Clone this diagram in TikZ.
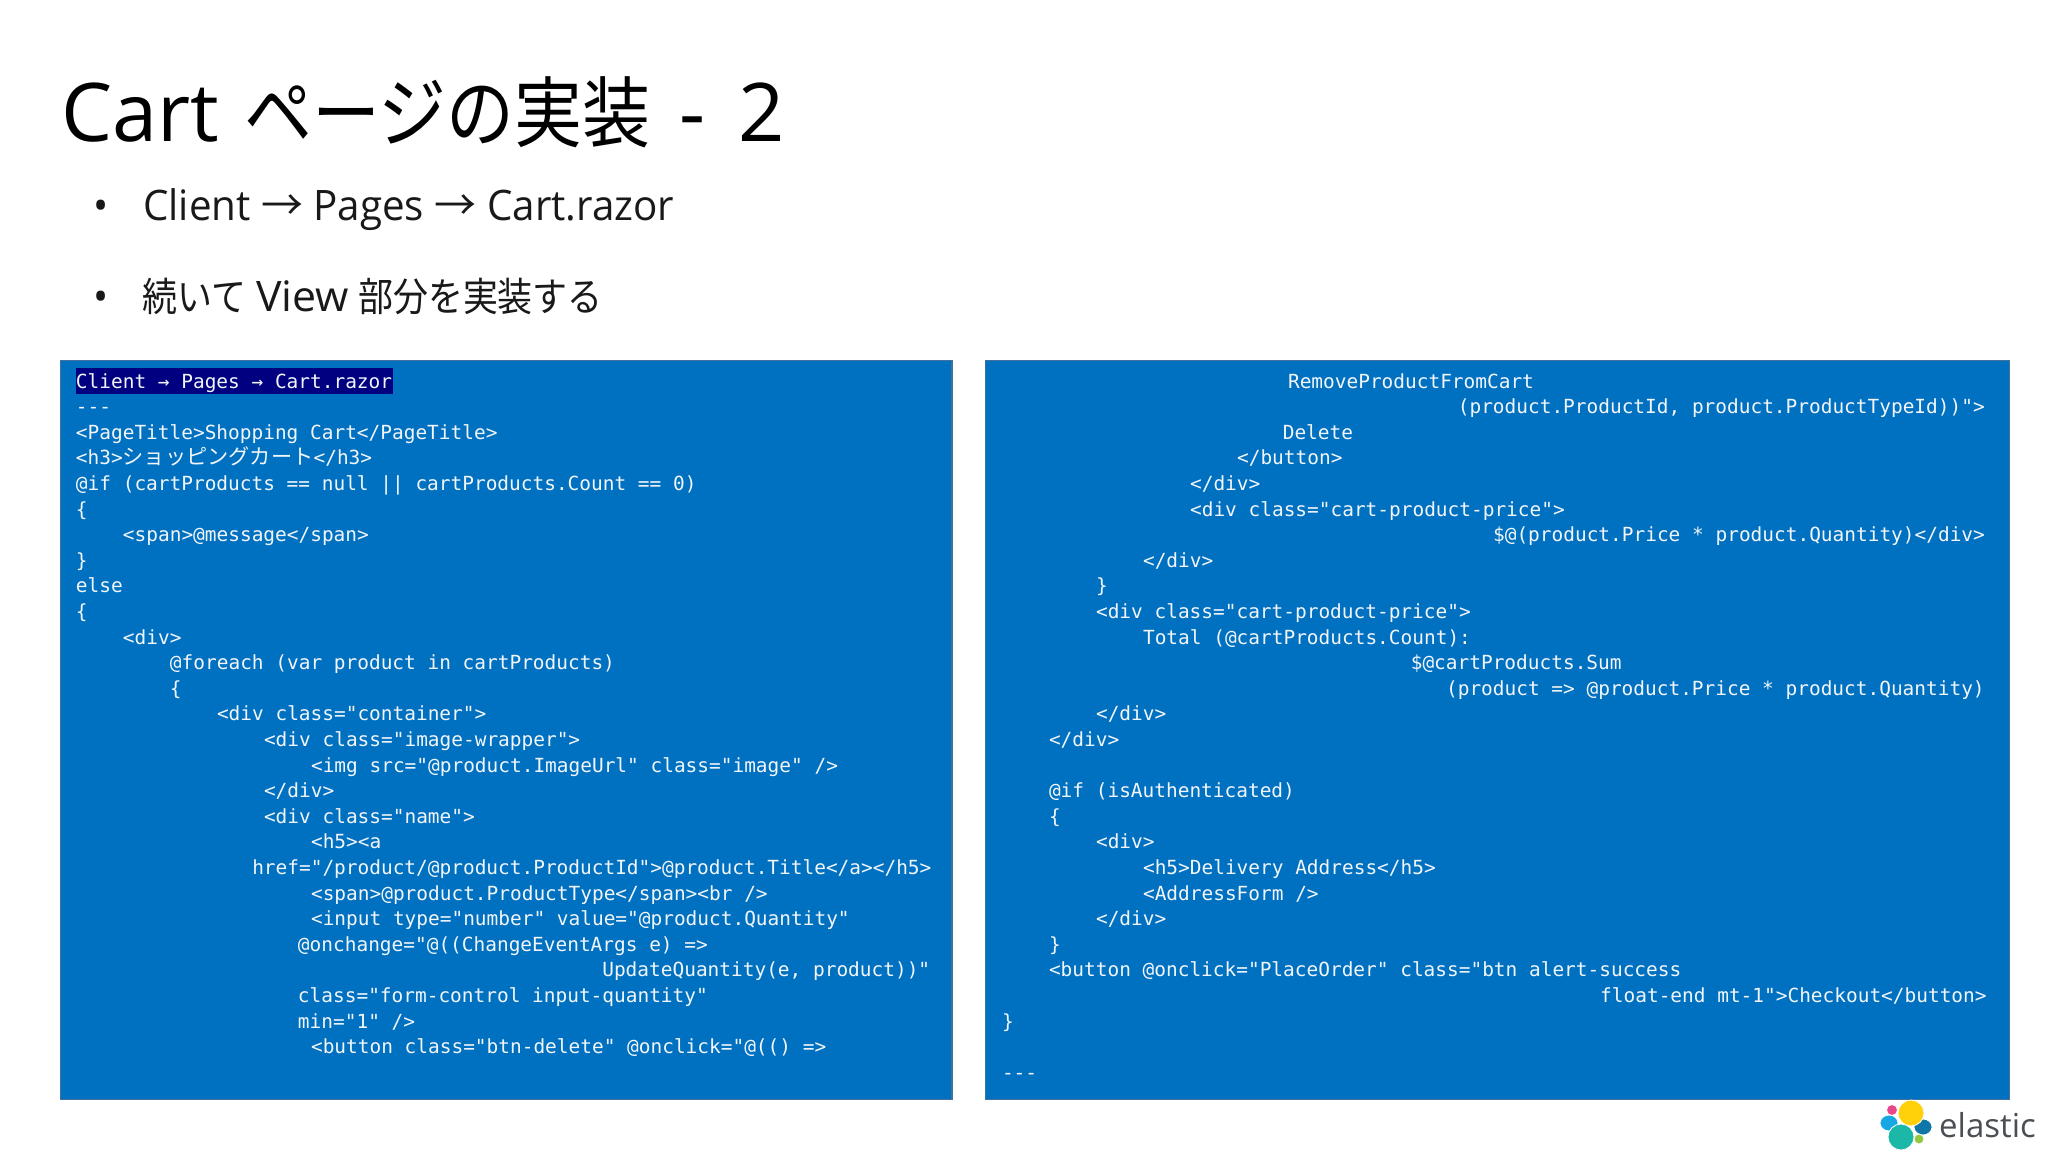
\documentclass[tikz,border=0pt]{standalone}
\usepackage{fontspec}
\setmainfont{Open Sans}
\newfontfamily\narrow[FakeStretch=0.96]{Open Sans}
\newfontfamily\jp{Noto Sans CJK JP}
\newfontfamily\jpn[FakeStretch=0.88]{Noto Sans CJK JP}
\newfontfamily\code{DejaVu Sans Mono}
\definecolor{panel}{HTML}{0070C0}
\definecolor{panelline}{HTML}{41719C}
\definecolor{hl}{HTML}{000080}
\definecolor{codetext}{HTML}{F2F6FA}
\definecolor{lpink}{HTML}{E9478B}
\definecolor{lyellow}{HTML}{FED10A}
\definecolor{lsky}{HTML}{17A8E3}
\definecolor{lnavy}{HTML}{0F76A8}
\definecolor{lteal}{HTML}{1BB8A8}
\definecolor{lgreen}{HTML}{93C83E}
\definecolor{lgray}{HTML}{4A4F55}
\tikzset{
  panelbox/.style={fill=panel,draw=panelline,line width=1.2pt},
  codeline/.style={anchor=base west,inner sep=0pt,text=codetext,font=\fontsize{19.45}{24}\code},
  titletext/.style={anchor=base west,inner sep=0pt,text=black,font=\fontsize{81}{90}\selectfont},
  titlejp/.style={anchor=base west,inner sep=0pt,text=black,font=\fontsize{77.2}{90}\jpn},
  bullettext/.style={anchor=base west,inner sep=0pt,text=black!90,font=\fontsize{42}{50}\narrow},
  bulletjp/.style={anchor=base west,inner sep=0pt,text=black!90,font=\fontsize{39.7}{50}\jpn},
  logotext/.style={anchor=base west,inner sep=0pt,text=lgray,font=\fontsize{33}{40}\selectfont},
  logoblob/.style={draw=white,line width=0.8pt}
}
\newcommand{\cl}[4]{\node[codeline] (#1) at ({#2*1.30612},{388+25.6*#3}) {#4};}
\begin{document}
\begin{tikzpicture}[x=1pt,y=-1pt]
\useasboundingbox (0,0) rectangle (2048,1152);
\fill[white] (0,0) rectangle (2048,1152);
\node[titletext] (title) at (61,141) {Cart};
\node[titlejp] (titlej) at (244,141) {ページの実装};
\node[titletext] (titled) at (679,141) {-};
\node[titletext] (titlen) at (738,141) {2};
\node[bullettext] (b1) at (93,220) {•};
\node[bullettext] (s1) at (143,220) {Client {\jp →} Pages {\jp →} Cart.razor};
\node[bullettext] (b2) at (93,311) {•};
\node[bulletjp] (s2a) at (142,311) {続いて};
\node[bullettext] (s2b) at (256,311) {\addfontfeature{FakeStretch=1.02}View};
\node[bulletjp] (s2c) at (358,311) {部分を実装する};
\draw[panelbox] (60.5,360.5) rectangle (952,1099.5);
\draw[panelbox] (985.5,360.5) rectangle (2009.5,1099.5);
\fill[hl] (76,368) rectangle (393,393.5);
\cl{la}{58}{0}{Client → Pages → Cart.razor}
\cl{lb}{58}{1}{---}
\cl{lc}{58}{2}{<PageTitle>Shopping Cart</PageTitle>}
\cl{ld}{58}{3}{<h3>{\jp\fontsize{21.2}{24}\selectfont ショッピングカート}</h3>}
\cl{le}{58}{4}{@if (cartProducts == null || cartProducts.Count == 0)}
\cl{lf}{58}{5}{\{}
\cl{lg}{94}{6}{<span>@message</span>}
\cl{lh}{58}{7}{\}}
\cl{li}{58}{8}{else}
\cl{lj}{58}{9}{\{}
\cl{lk}{94}{10}{<div>}
\cl{ll}{130}{11}{@foreach (var product in cartProducts)}
\cl{lm}{130}{12}{\{}
\cl{ln}{166}{13}{<div class="container">}
\cl{lo}{202}{14}{<div class="image-wrapper">}
\cl{lp}{238}{15}{<img src="@product.ImageUrl" class="image" />}
\cl{lq}{202}{16}{</div>}
\cl{lr}{202}{17}{<div class="name">}
\cl{ls}{238}{18}{<h5><a}
\cl{lt}{193}{19}{href="/product/@product.ProductId">@product.Title</a></h5>}
\cl{lu}{238}{20}{<span>@product.ProductType</span><br />}
\cl{lv}{238}{21}{<input type="number" value="@product.Quantity"}
\cl{lw}{228}{22}{@onchange="@((ChangeEventArgs e) =>}
\cl{lx}{461}{23}{UpdateQuantity(e, product))"}
\cl{ly}{228}{24}{class="form-control input-quantity"}
\cl{lz}{228}{25}{min="1" />}
\cl{lza}{238}{26}{<button class="btn-delete" @onclick="@(() =>}
\cl{ra}{986}{0}{RemoveProductFromCart}
\cl{rb}{1116}{1}{(product.ProductId, product.ProductTypeId))">}
\cl{rc}{982}{2}{Delete}
\cl{rd}{947}{3}{</button>}
\cl{re}{911}{4}{</div>}
\cl{rf}{911}{5}{<div class="cart-product-price">}
\cl{rg}{1143}{6}{\$@(product.Price * product.Quantity)</div>}
\cl{rh}{875}{7}{</div>}
\cl{ri}{839}{8}{\}}
\cl{rj}{839}{9}{<div class="cart-product-price">}
\cl{rk}{875}{10}{Total (@cartProducts.Count):}
\cl{rl}{1080}{11}{\$@cartProducts.Sum}
\cl{rm}{1107}{12}{(product => @product.Price * product.Quantity)}
\cl{rn}{839}{13}{</div>}
\cl{ro}{803}{14}{</div>}
\cl{rp}{803}{16}{@if (isAuthenticated)}
\cl{rq}{803}{17}{\{}
\cl{rr}{839}{18}{<div>}
\cl{rs}{875}{19}{<h5>Delivery Address</h5>}
\cl{rt}{875}{20}{<AddressForm />}
\cl{ru}{839}{21}{</div>}
\cl{rv}{803}{22}{\}}
\cl{rw}{803}{23}{<button @onclick="PlaceOrder" class="btn alert-success}
\cl{rx}{1225}{24}{float-end mt-1">Checkout</button>}
\cl{ry}{767}{25}{\}}
\cl{rz}{767}{27}{---}
% logo
\filldraw[logoblob,fill=lpink] (1892,1110) circle (5.5);
\filldraw[logoblob,fill=lsky] (1889,1123) ellipse (9 and 8);
\filldraw[logoblob,fill=lnavy] (1923,1127) ellipse (9 and 8);
\filldraw[logoblob,fill=lyellow] (1911,1113) circle (13);
\filldraw[logoblob,fill=lteal] (1901,1137) circle (13);
\filldraw[logoblob,fill=lgreen] (1919,1139) circle (5);
\node[logotext] (logo) at (1939,1137) {elastic};
\end{tikzpicture}
\end{document}
